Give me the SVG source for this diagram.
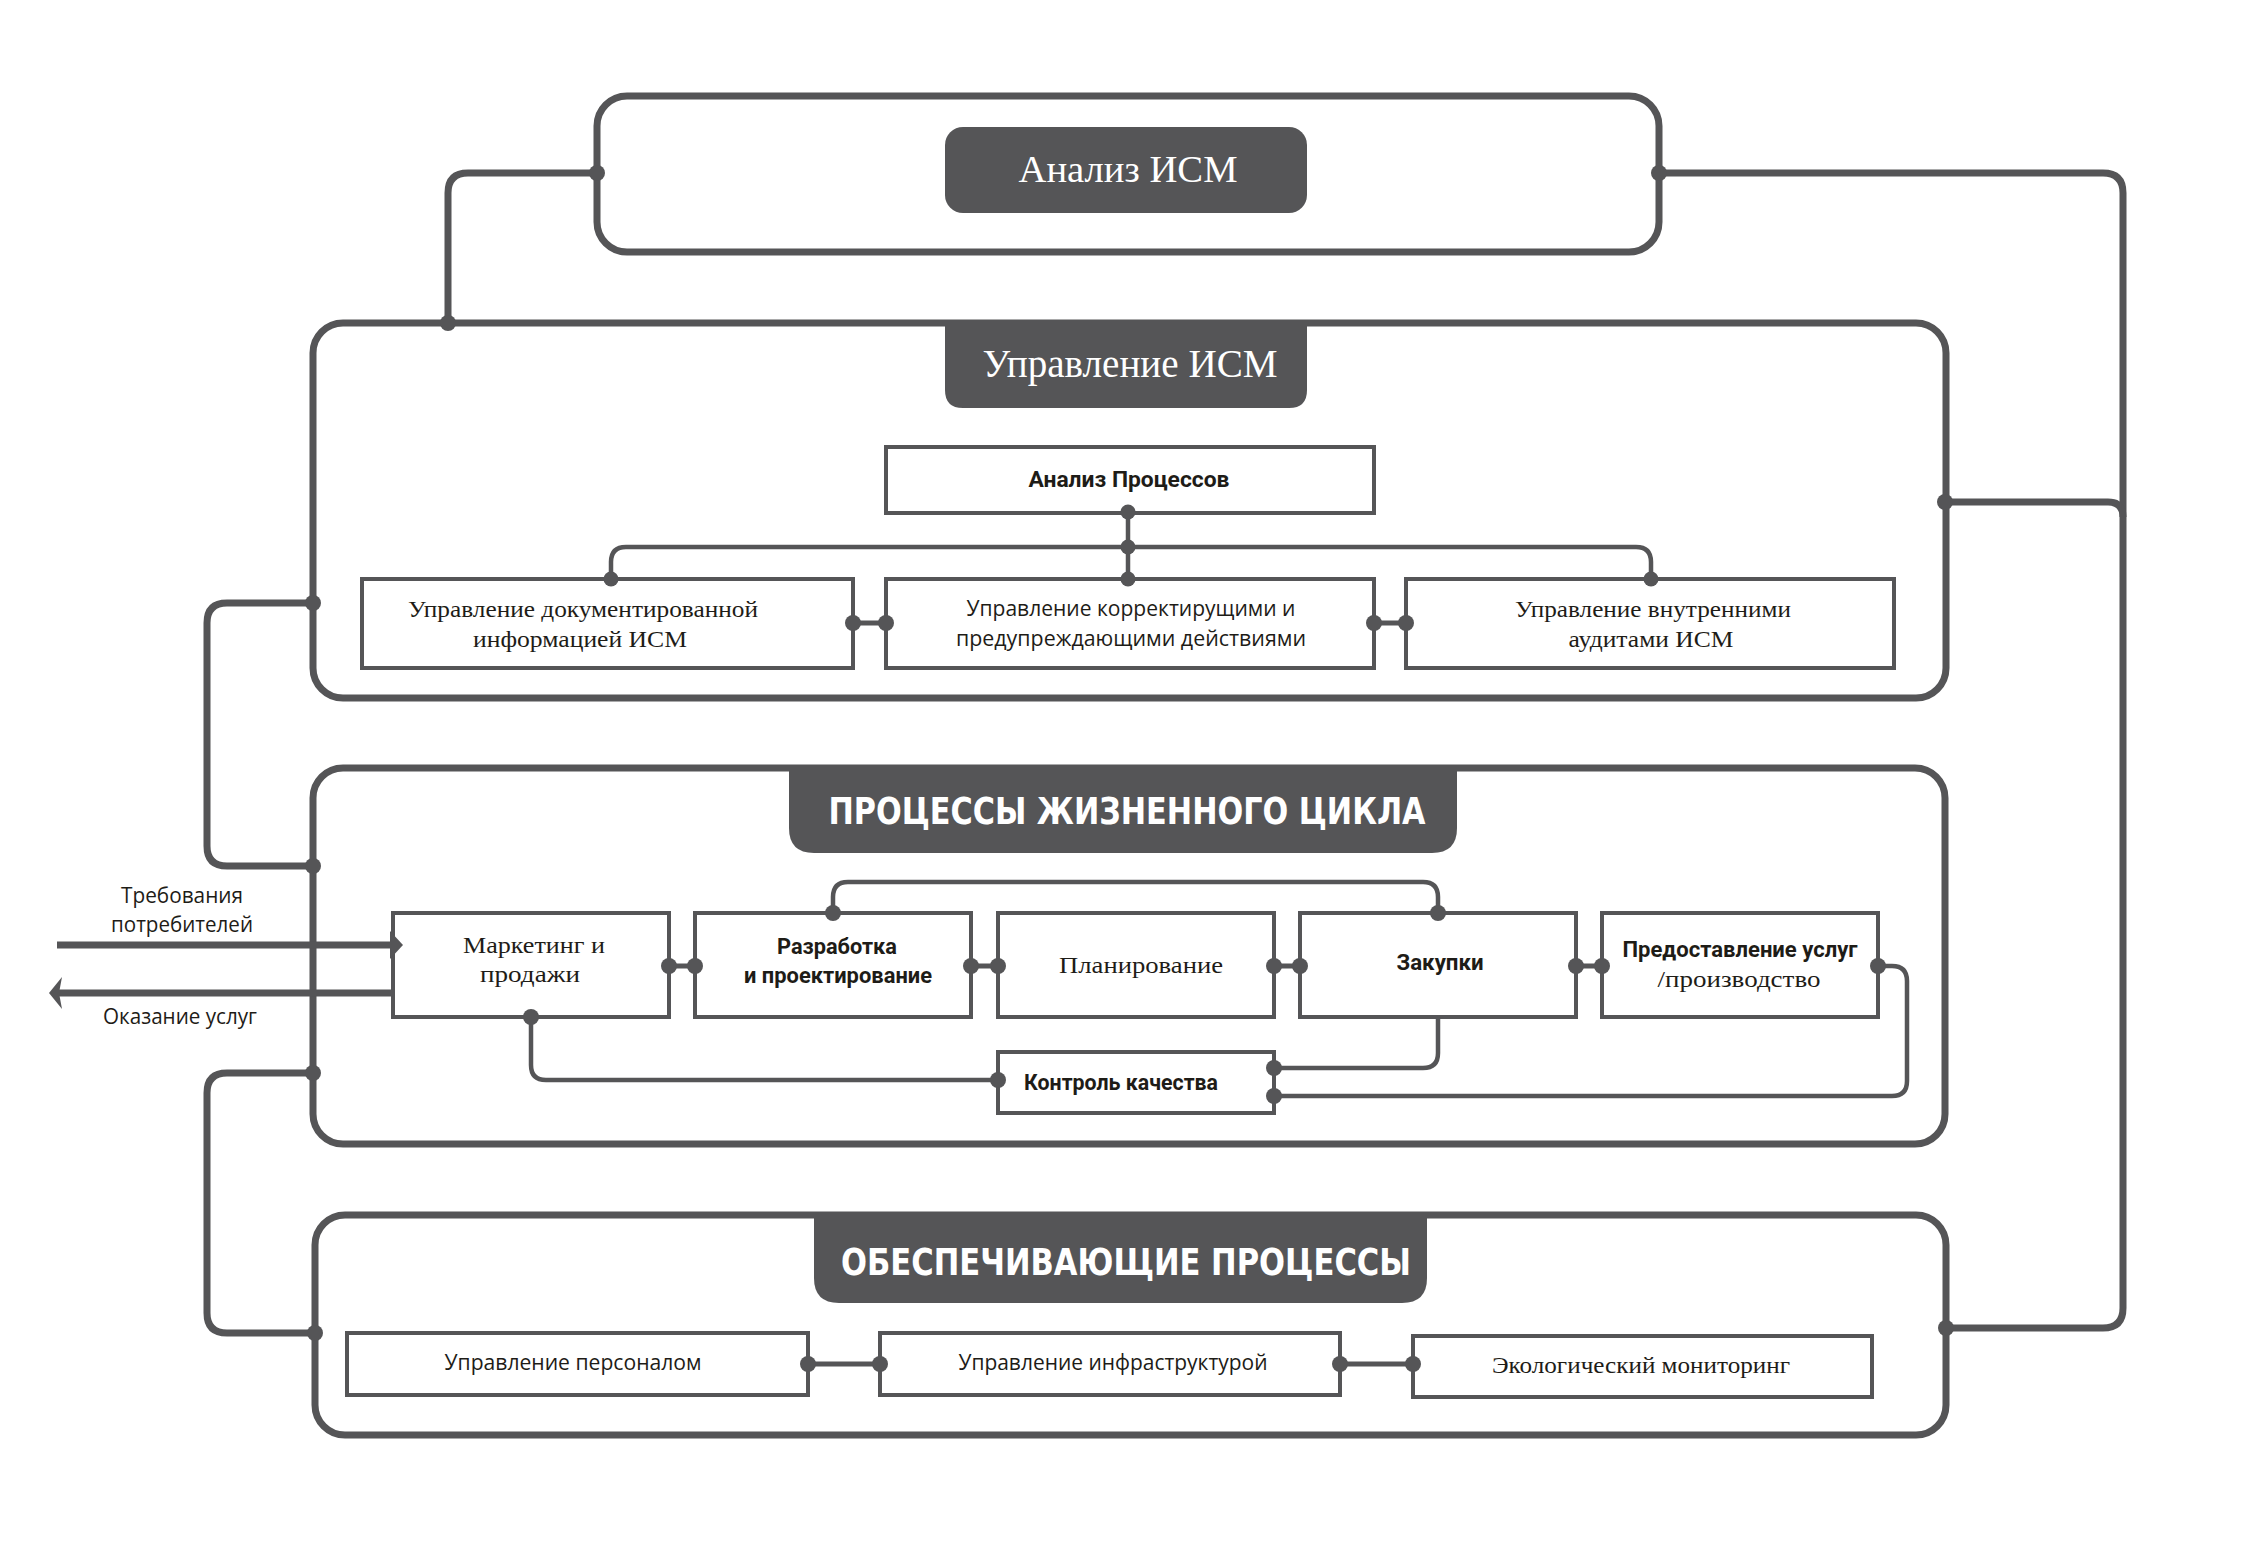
<svg xmlns="http://www.w3.org/2000/svg" width="2242" height="1544" viewBox="0 0 2242 1544">
<style>
.cont{fill:none;stroke:#555557;stroke-width:7}
.tab{fill:#555557}
.box{fill:#fff;stroke:#555557;stroke-width:4}
.ln{fill:none;stroke:#555557;stroke-width:7;stroke-linejoin:round}
.cn{fill:none;stroke:#555557;stroke-width:4.5;stroke-linejoin:round}
.bar{fill:none;stroke:#555557;stroke-width:5}
.dot{fill:#555557}
.ttl{fill:#fff;font-family:"Liberation Serif","DejaVu Serif",serif;text-anchor:middle}
.tcap{fill:#fff;font-family:"DejaVu Sans Condensed","Roboto","Liberation Sans",sans-serif;font-weight:bold;text-anchor:middle}
.ser{fill:#1e1c17;font-family:"Liberation Serif","DejaVu Serif",serif;font-size:23px;text-anchor:middle}
.lt{fill:#1e1c17;font-family:"Open Sans","Liberation Sans",sans-serif;font-size:22px;text-anchor:middle}
.bd{fill:#1e1c17;font-family:"Roboto","Liberation Sans",sans-serif;font-weight:bold;font-size:22px;text-anchor:middle}
</style>

<g id="analiz-ism">
<rect class="cont" x="597" y="96" width="1062" height="156" rx="30"/>
<rect class="tab" x="945" y="127" width="362" height="86" rx="18"/>
<text class="ttl" x="1128" y="182" font-size="38" textLength="219" lengthAdjust="spacingAndGlyphs">Анализ ИСМ</text>
</g>

<g id="upravlenie-ism">
<rect class="cont" x="313" y="323" width="1633" height="375" rx="30"/>
<path class="tab" d="M945,320 H1307 V390 Q1307,408 1289,408 H963 Q945,408 945,390 Z"/>
<text class="ttl" x="1130" y="377" font-size="40" textLength="295" lengthAdjust="spacingAndGlyphs">Управление ИСМ</text>
</g>

<g id="analiz-processov">
<rect class="box" x="886" y="447" width="488" height="66"/>
<text class="bd" x="1129" y="487" textLength="201" lengthAdjust="spacingAndGlyphs">Анализ Процессов</text>
</g>

<g id="upr-doc">
<rect class="box" x="362" y="579" width="491" height="89"/>
<text class="ser" x="583" y="617" textLength="350" lengthAdjust="spacingAndGlyphs">Управление документированной</text>
<text class="ser" x="580" y="647" textLength="214" lengthAdjust="spacingAndGlyphs">информацией ИСМ</text>
</g>

<g id="upr-korr">
<rect class="box" x="886" y="579" width="488" height="89"/>
<text class="lt" x="1131" y="616" textLength="329" lengthAdjust="spacingAndGlyphs">Управление корректирущими и</text>
<text class="lt" x="1131" y="646" textLength="350" lengthAdjust="spacingAndGlyphs">предупреждающими действиями</text>
</g>

<g id="upr-audit">
<rect class="box" x="1406" y="579" width="488" height="89"/>
<text class="ser" x="1653" y="617" textLength="276" lengthAdjust="spacingAndGlyphs">Управление внутренними</text>
<text class="ser" x="1651" y="647" textLength="165" lengthAdjust="spacingAndGlyphs">аудитами ИСМ</text>
</g>

<g id="zhiznenny-cikl">
<rect class="cont" x="313" y="768" width="1632" height="376" rx="30"/>
<path class="tab" d="M789,765 H1457 V828 Q1457,853 1432,853 H814 Q789,853 789,828 Z"/>
<text class="tcap" x="1127" y="824" font-size="38" textLength="597" lengthAdjust="spacingAndGlyphs">ПРОЦЕССЫ ЖИЗНЕННОГО ЦИКЛА</text>
</g>

<g id="marketing">
<rect class="box" x="393" y="913" width="276" height="104"/>
<text class="ser" x="534" y="953" textLength="142" lengthAdjust="spacingAndGlyphs">Маркетинг и</text>
<text class="ser" x="530" y="982" textLength="100" lengthAdjust="spacingAndGlyphs">продажи</text>
</g>

<g id="razrabotka">
<rect class="box" x="695" y="913" width="276" height="104"/>
<text class="bd" x="837" y="954" textLength="120" lengthAdjust="spacingAndGlyphs">Разработка</text>
<text class="bd" x="838" y="983" textLength="188" lengthAdjust="spacingAndGlyphs">и проектирование</text>
</g>

<g id="planirovanie">
<rect class="box" x="998" y="913" width="276" height="104"/>
<text class="ser" x="1141" y="973" textLength="164" lengthAdjust="spacingAndGlyphs">Планирование</text>
</g>

<g id="zakupki">
<rect class="box" x="1300" y="913" width="276" height="104"/>
<text class="bd" x="1440" y="970" textLength="87" lengthAdjust="spacingAndGlyphs">Закупки</text>
</g>

<g id="predostavlenie">
<rect class="box" x="1602" y="913" width="276" height="104"/>
<text class="bd" x="1740" y="957" font-weight="normal" textLength="235" lengthAdjust="spacingAndGlyphs">Предоставление услуг</text>
<text class="ser" x="1739" y="987" textLength="163" lengthAdjust="spacingAndGlyphs">/производство</text>
</g>

<g id="kontrol">
<rect class="box" x="998" y="1052" width="276" height="61"/>
<text class="bd" x="1121" y="1090" textLength="194" lengthAdjust="spacingAndGlyphs">Контроль качества</text>
</g>

<g id="obespechivayushchie">
<rect class="cont" x="315" y="1215" width="1631" height="220" rx="30"/>
<path class="tab" d="M814,1212 H1427 V1278 Q1427,1303 1402,1303 H839 Q814,1303 814,1278 Z"/>
<text class="tcap" x="1126" y="1275" font-size="38" textLength="570" lengthAdjust="spacingAndGlyphs">ОБЕСПЕЧИВАЮЩИЕ ПРОЦЕССЫ</text>
</g>

<g id="upr-personal">
<rect class="box" x="347" y="1333" width="461" height="62"/>
<text class="lt" x="573" y="1370" textLength="257" lengthAdjust="spacingAndGlyphs">Управление персоналом</text>
</g>

<g id="upr-infra">
<rect class="box" x="880" y="1333" width="460" height="62"/>
<text class="lt" x="1113" y="1370" textLength="309" lengthAdjust="spacingAndGlyphs">Управление инфраструктурой</text>
</g>

<g id="eco">
<rect class="box" x="1413" y="1336" width="459" height="61"/>
<text class="ser" x="1641" y="1373" textLength="298" lengthAdjust="spacingAndGlyphs">Экологический мониторинг</text>
</g>

<g id="labels">
<text class="lt" x="182" y="903" font-size="23" textLength="122" lengthAdjust="spacingAndGlyphs">Требования</text>
<text class="lt" x="182" y="932" font-size="23" textLength="142" lengthAdjust="spacingAndGlyphs">потребителей</text>
<text class="lt" x="180" y="1024" font-size="23" textLength="154" lengthAdjust="spacingAndGlyphs">Оказание услуг</text>
</g>

<g id="connectors">
<path class="ln" d="M597,173 H468 Q448,173 448,193 V323"/>
<path class="ln" d="M1659,173 H2103 Q2123,173 2123,193 V1308 Q2123,1328 2103,1328 H1946"/>
<path class="ln" d="M1945,502 H2108 Q2123,502 2123,517"/>
<path class="ln" d="M313,603 H227 Q207,603 207,623 V846 Q207,866 227,866 H313"/>
<path class="ln" d="M313,1073 H227 Q207,1073 207,1093 V1313 Q207,1333 227,1333 H315"/>
<path class="cn" d="M1128,512 V579"/>
<path class="cn" d="M611,579 V562 Q611,547 626,547 H1636 Q1651,547 1651,562 V579"/>
<path class="bar" d="M853,623 H886 M1374,623 H1406"/>
<path class="ln" d="M57,945 H392" stroke-width="6"/>
<polygon class="dot" points="390,931 403,945 390,959"/>
<path class="ln" d="M393,993 H58" stroke-width="6"/>
<polygon class="dot" points="49,993 62,977 59,993 62,1009"/>
<path class="cn" d="M833,913 V897 Q833,882 848,882 H1423 Q1438,882 1438,897 V913"/>
<path class="cn" d="M531,1017 V1065 Q531,1080 546,1080 H998"/>
<path class="cn" d="M1438,1017 V1053 Q1438,1068 1423,1068 H1274"/>
<path class="cn" d="M1878,966 H1892 Q1907,966 1907,981 V1081 Q1907,1096 1892,1096 H1274"/>
<path class="bar" d="M669,966 H695 M971,966 H998 M1274,966 H1300 M1576,966 H1602"/>
<path class="bar" d="M808,1364 H880 M1340,1364 H1413"/>
<g class="dot">
<circle cx="597" cy="173" r="8"/>
<circle cx="448" cy="323" r="8"/>
<circle cx="1659" cy="173" r="8"/>
<circle cx="1946" cy="1328" r="8"/>
<circle cx="1945" cy="502" r="8"/>
<circle cx="313" cy="603" r="8"/>
<circle cx="313" cy="866" r="8"/>
<circle cx="313" cy="1073" r="8"/>
<circle cx="315" cy="1333" r="8"/>
<circle cx="1128" cy="512" r="7.5"/>
<circle cx="1128" cy="547" r="7.5"/>
<circle cx="1128" cy="579" r="7.5"/>
<circle cx="611" cy="579" r="7.5"/>
<circle cx="1651" cy="579" r="7.5"/>
<circle cx="853" cy="623" r="8"/>
<circle cx="886" cy="623" r="8"/>
<circle cx="1374" cy="623" r="8"/>
<circle cx="1406" cy="623" r="8"/>
<circle cx="669" cy="966" r="8"/>
<circle cx="695" cy="966" r="8"/>
<circle cx="971" cy="966" r="8"/>
<circle cx="998" cy="966" r="8"/>
<circle cx="1274" cy="966" r="8"/>
<circle cx="1300" cy="966" r="8"/>
<circle cx="1576" cy="966" r="8"/>
<circle cx="1602" cy="966" r="8"/>
<circle cx="833" cy="913" r="8"/>
<circle cx="1438" cy="913" r="8"/>
<circle cx="531" cy="1017" r="8"/>
<circle cx="998" cy="1080" r="8"/>
<circle cx="1274" cy="1068" r="8"/>
<circle cx="1878" cy="966" r="8"/>
<circle cx="1274" cy="1096" r="8"/>
<circle cx="808" cy="1364" r="8"/>
<circle cx="880" cy="1364" r="8"/>
<circle cx="1340" cy="1364" r="8"/>
<circle cx="1413" cy="1364" r="8"/>
</g>
</g>
</svg>
